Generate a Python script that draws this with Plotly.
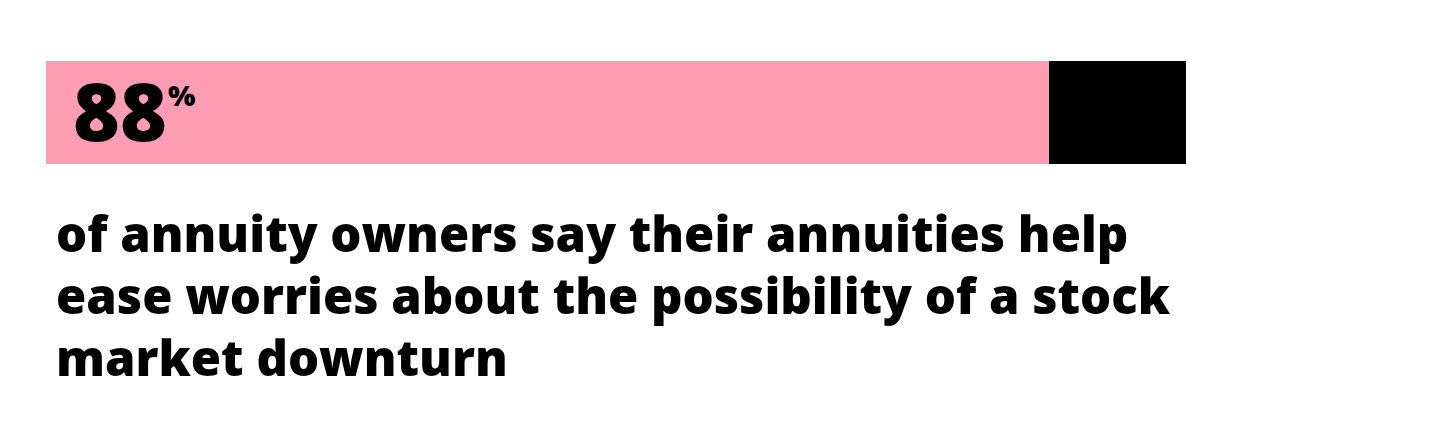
import plotly.graph_objects as go

# values
share_yes = [88]
share_rest = [12]
headline = "88"
caption_lines = [
    "of annuity owners say their annuities help",
    "ease worries about the possibility of a stock",
    "market downturn",
]

W, H = 1440, 432
OFF = 8  # page body margin shifts the figure
FONT = "Open Sans"

fig = go.Figure()
fig.add_trace(go.Bar(x=share_yes, y=[0], orientation="h", width=1,
                     marker=dict(color="#fd9db4", line_width=0), hoverinfo="skip"))
fig.add_trace(go.Bar(x=share_rest, y=[0], orientation="h", width=1,
                     marker=dict(color="#000000", line_width=0), hoverinfo="skip"))

L, R = 46 - OFF, 1186 - OFF
T, B = 61 - OFF, 164 - OFF
fig.update_layout(
    width=W, height=H, barmode="stack", showlegend=False,
    paper_bgcolor="white", plot_bgcolor="white",
    margin=dict(l=L, r=W - R, t=0, b=0),
    xaxis=dict(range=[0, 100], visible=False, fixedrange=True),
    yaxis=dict(range=[-0.5, 0.5], visible=False, fixedrange=True,
               domain=[1 - B / H, 1 - T / H]),
)

def px(v):  # screen pixel x -> paper fraction
    return (v - OFF - L) / (R - L)

def py(v):  # screen pixel y (top-down) -> paper fraction
    return 1 - (v - OFF) / H

fig.add_annotation(text=headline, xref="paper", yref="paper",
                   x=px(71), y=py(109), xanchor="left", yanchor="middle",
                   showarrow=False, font=dict(family=FONT, size=80, color="black", weight=800))
fig.add_annotation(text="%", xref="paper", yref="paper",
                   x=px(166), y=py(94), xanchor="left", yanchor="middle",
                   showarrow=False, font=dict(family=FONT, size=29, color="black", weight=800))

for i, line in enumerate(caption_lines):
    fig.add_annotation(text=line, xref="paper", yref="paper",
                       x=px(54), y=py(233 + 62 * i), xanchor="left", yanchor="middle",
                       showarrow=False, font=dict(family=FONT, size=49, color="black", weight=800))

fig.write_html("out.html")
